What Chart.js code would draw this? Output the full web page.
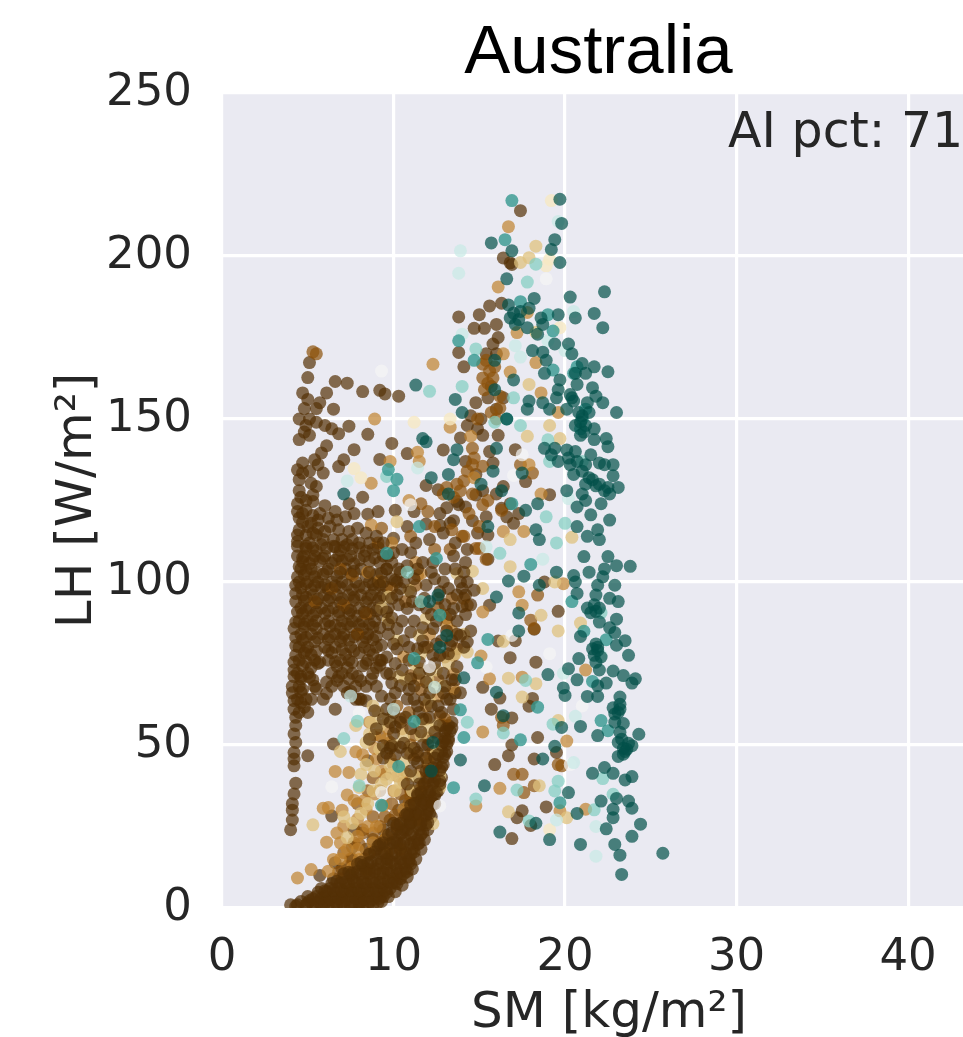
<!DOCTYPE html>
<html><head><meta charset="utf-8">
<script src="https://cdn.jsdelivr.net/npm/chart.js@4"></script>
<style>html,body{margin:0;padding:0;background:#fff;overflow:hidden}canvas{display:block}</style>
</head><body><canvas id="c" width="963" height="1037"></canvas>
<script>
const xTicks=[0,10,20,30,40];
const yTicks=[0,50,100,150,200,250];
const note="AI pct: 71";
const darkBrown=[[17.4,213.9],[16.4,199.4],[16.8,197.9],[16.9,197.4],[16.3,185.5],[15.6,184.7],[13.8,181.3],[15,182],[16,179],[14.7,177.8],[15.3,177.8],[16.1,175],[15.8,173],[13.8,170.4],[14.1,166],[5.1,167.3],[5,162.7],[6.6,161.5],[7.3,161],[8.2,158.4],[9.2,158.8],[9.5,157.7],[10.3,157],[6.1,158],[4.7,158],[5,156],[5.7,155],[5.5,153.2],[4.8,153.2],[6.5,153],[4.5,150],[5.1,150],[4.9,148],[5.5,149],[6,148],[6.4,147],[5.1,145],[4.5,143.7],[4.8,146],[6.8,145.5],[7.4,147.8],[8.5,145.3],[9.9,142.5],[6.1,141.8],[5.8,139.6],[7.7,140.6],[10.8,139.4],[12.9,140.5],[9.2,137.6],[7.1,137.5],[6.8,135.4],[5.4,137.5],[4.7,136.5],[5.6,136],[4.4,134.4],[4.7,133.4],[4.5,131.4],[5.1,134],[5.9,133.4],[5.2,130.3],[5.5,129.3],[5.3,126.7],[5.3,124.7],[7.4,124],[8.2,126],[11.9,129.6],[12.6,128.3],[13.7,124.7],[13.8,123.7],[14.8,126.7],[13.9,144.2],[14.3,148],[14.5,151],[15.1,150],[14.8,155],[15.5,156.5],[16.4,156.5],[16.1,145],[15.8,136.5],[17.1,140.6],[16.4,129.3],[19.1,126.8],[17.7,130.8],[13.1,122.8],[11.2,121.6],[10.1,122],[9.1,121.6],[8.5,120.8],[7.7,121],[7.2,120],[6.6,121.6],[6,123.4],[4.4,124],[4.4,121.6],[4.5,119.6],[4.9,122],[5.3,120.4],[4.7,118.3],[5.6,119],[6.2,119.6],[6.7,119],[4.4,114.4],[4.9,114.4],[5.5,114.4],[5.9,113],[4.4,112.4],[5.1,112],[6.6,110.8],[7.1,110.8],[8,112],[8.6,112],[10,113.4],[10.8,117],[11.9,117.8],[12.7,117.3],[13.5,118.8],[14.6,118.8],[16.3,122.6],[15.5,114.4],
[4,24],[4.1,27],[4.1,30],[4.1,32],[4.2,35],[4.3,38.3],[4.2,43.6],[4.2,45.7],[4.2,47.7],[4.3,50.8],[4.2,53.4],[4.3,56],[4.3,58.5],[4.2,61],[4.2,63.6],[4.1,66],[4.1,68],[4.2,71],[4.2,73],[4.2,75.4],[4.3,77.5],[4.3,80.5],[4.3,83],[4.2,85.7],[4.3,87.7],[4.4,90.8],[4.3,94],[4.3,96.5],[4.3,99],[4.4,101.6],[4.5,104.7],[4.4,108],[4.4,111],
[4.8,108],[5.4,108],[6,108],[6.8,108],[7.5,108],[8.3,108],[9.4,108],[4.6,104],[5.2,104],[6.2,104],[7.2,104],[8.1,104],[9.6,104],[10.3,104],[4.5,100],[5,100],[5.6,100],[6.4,100],[7,100],[7.8,100],[8.6,100],[9.1,100],[10.2,100],[4.7,96],[5.3,96],[6,96],[6.7,96],[7.4,96],[8.1,96],[8.7,96],[9.4,96],[4.6,92],[5.1,92],[5.8,92],[6.5,92],[7.3,92],[8,92],[8.8,92],[9.7,92],[4.5,88],[5,88],[5.5,88],[6.2,88],[7,88],[7.6,88],[8.2,88],[8.9,88],[4.6,84],[5.2,84],[5.9,84],[6.6,84],[7.1,84],[7.9,84],[8.5,84],[4.5,80],[5,80],[6,80],[6.6,80],[7.5,80],[8.3,80],[9,80],[4.5,76],[5.4,76],[6.2,76],[6.9,76],[7.4,76],[8.5,76],[9.3,76],[4.4,72],[5,72],[6.4,72],[7,72],[7.6,72],[8.8,72],[9.6,72],[4.5,68],[5.4,68],[6.4,68],[7.1,68],[7.8,68],[8.4,68],[9,68],[4.4,64],[5.2,64],[5.9,64],[7.8,64],[8.1,64],[4.5,60],[5,60],
[8.2,0.5],[8.8,1],[9.3,2],[9.7,3.5],[10.1,5],[10.5,7],[10.8,9.5],[11.1,12],[11.3,15],[11.6,18],[11.8,21],[12,24],[12.2,28],[12.4,32],[12.6,36],[12.8,40],[12.9,44],[13.1,48],[13.2,52],[13.4,57],[13.5,61],[13.6,66],
[4,1],[4.4,1],[4.9,1],[5.3,1],[5.8,1],[6.2,1],[6.7,1],[7.1,1],[7.6,1],[8,1],[5,3.5],[5.5,3.5],[6,3.5],[6.5,3.5],[7,3.5],[7.5,3.5],[8,3.5],[8.5,3.5],[9,3.5],[9.4,3.5],[5.8,6],[6.3,6],[6.8,6],[7.3,6],[7.8,6],[8.3,6],[8.8,6],[9.3,6],[9.8,6],[6.5,9],[7,9],[7.6,9],[8.2,9],[8.8,9],[9.4,9],[10,9],[10.4,9],[7,12],[7.7,12],[8.4,12],[9,12],[9.6,12],[10.2,12],[10.7,12],[7.6,15],[8.3,15],[9,15],[9.7,15],[10.4,15],[10.9,15],[8.4,18],[9,18],[9.8,18],[10.4,18],[11.1,18],[8.8,21],[9.5,21],[10.1,21],[10.7,21],[11.4,21],[9.4,24],[10.2,24],[10.8,24],[11.5,24],[9.8,27],[10.6,27],[11.2,27],[11.8,27],[10.3,30],[11,30],[11.6,30],[12,30],[10.7,33],[11.3,33],[11.9,33],[12.2,33],[11,36],[11.6,36],[12.2,36],[11.5,40],[12,40],[12.5,40],[12,44],[12.5,44],[12.3,48],[12.8,48],[12.6,52],[13,52],[12.9,56],[13.2,56],
[6.6,61],[6.5,50.3],[5,46.7],[8.5,45.2],[6.4,28.2],[7.7,24],[5.7,10],[7.6,18.7],[6.6,13.9],[7.5,66.5],[8,64.1],[8.4,63.6],[18.4,52.3],[16.9,50],[16.7,46.7],[15.9,44],[18.2,45.7],[19.5,47.7],[18.9,31],[17.5,29.8],[17.2,27.7],[18,25.3],[16.9,21.3],[19.6,91],[18.3,75.4],[16.8,76.8],[15.2,67.7],[15.7,61],[16.2,64.4],[18.1,64.3],[17.9,61.9],[16.9,58.3],[17.1,82],[16.1,81.9],[18.2,85.5],[15.5,107],[18.8,100],[15.6,92.9],
[4.9,110.3],[5.5,109.6],[6.1,110.4],[6.9,109.7],[7.6,110.2],[8.4,109.5],[9.1,110.6],[4.7,106.2],[5.1,105.7],[5.7,106.4],[6.4,105.8],[7,106.5],[7.7,105.6],[8.6,106.3],[9.9,106],[4.8,102.2],[5.4,101.6],[5.9,102.4],[6.7,101.8],[7.5,102.5],[8.4,101.7],[9,102.3],[4.6,98.2],[5.2,97.7],[5.8,98.4],[6.2,97.8],[6.9,98.3],[7.6,97.6],[8.3,98.2],[8.9,97.8],[9.6,98.4],[4.8,94.2],[5.5,93.6],[6.2,94.3],[6.9,93.7],[7.7,94.4],[8.4,93.8],[9.1,94.2],[4.7,90.3],[5.3,89.7],[6,90.4],[6.8,89.8],[7.4,90.3],[7.9,89.6],[8.6,90.2],[9.3,89.9],[4.8,86.2],[5.5,85.7],[6.3,86.4],[6.9,85.8],[7.5,86.3],[8.2,85.6],[8.8,86.1],[4.7,82.3],[5.4,81.7],[6.2,82.4],[6.9,81.8],[7.4,82.2],[8.2,81.7],[8.8,82.3],[4.8,78.2],[5.2,77.7],[6.4,78.3],[7.2,77.8],[8,78.2],[8.8,77.7],[4.7,74.3],[5.2,73.7],[6.7,74.2],[7.3,73.8],[8.2,74.3],[9,73.7],[4.6,70.2],[6.7,69.8],[7.4,70.3],[8.1,69.7],[8.7,70.2],[4.6,66.2],[6.1,65.8],[7.3,66],
[14.8,133],[15.2,128],[14.2,123],[16,127],[16.8,124],[17.3,121],[15.4,120],[13.3,118],[12.7,121],[14.9,115],[16.6,120],[17,118],[14.2,137],[15.6,140],[15.2,145],[14.9,147],[16,153],[15.7,160],[15.4,170],[16,170]];
const darkBrownTop=[[4.5,116],[5,117],[5.6,116.5],[4.7,121],[5.2,118],[4.6,126],[4.9,125],[4.5,128],[5.7,121],[6.3,117],[6.8,116],[7.4,115.5],[7.9,116.5],[5.3,115],[6,115.5],[6.5,113],[7,113],[7.6,113],[8.4,115],[9,114],
[4.9,111],[5.3,110.5],[5.8,111.5],[6.5,111],[7.3,111.5],[8,110.5],[8.8,110],[9.4,112],[4.7,107.5],[5.3,106.8],[5.9,107.2],[6.6,106.7],[7.3,107],[8,106.8],[8.9,107.4],[4.9,103.5],[5.5,102.8],[6.1,103.2],[6.9,102.9],[7.7,103.3],[8.6,103],[9.3,102.7],[4.9,99.5],[5.4,98.9],[6,99.2],[6.6,98.8],[7.3,99.1],[8,98.7],[8.8,99.2],[9.4,100],[4.9,95.3],[5.6,94.8],[6.3,95.2],[7,94.9],[7.7,95.3],[8.5,94.9],[9.2,95.1],[9.9,95],[4.9,91.3],[5.5,90.8],[6.2,91.2],[6.8,90.9],[7.5,91.3],[8.3,90.8],[9,91.2],[9.6,90.8],[4.8,87.2],[5.3,86.8],[6,87.2],[6.6,86.7],[7.3,87.1],[8,86.8],[8.6,87.1],[9.2,86],[4.9,83],[5.6,82.8],[6.3,83.2],[7,83],[7.7,83.2],[8.4,82.9],[9,83.3],[4.9,79],[5.5,78.8],[6.2,79],[7,79.3],[7.7,78.9],[8.6,79],[4.9,75.5],[5.6,75],[6.6,75.5],[7.6,75.3],[8.4,75],[9.2,74.5],[4.6,71],[5.3,70],[6.8,71],[7.9,71],[4.7,67],[4.6,63],
[9.2,99],[9.9,101],[10.6,100],[11.4,104],[12.2,103],[12.9,100],[13.6,104],[14,98],[10.2,96],[11.1,94],[11.9,92],[12.6,95],[13.3,90],[14,92.5],[14.2,96],[9.7,87],[10.5,88],[11.7,86],[12.5,88],[13.1,85],[13.7,84],[10,81],[10.9,80],[11.8,80],[12.5,81],[13.4,82],[9.6,77],[10.5,73],[11.5,72],[12.4,75],[13.2,78],[13.6,70],[9.9,69],[10.9,67],[11.8,64],[12.6,62],[13.1,64],[10,60],[10.7,58.5],[11.5,60],[12.1,58.5],[12.7,56],[9.4,58],[10.1,55.5],[11.6,54],[10.8,47.5],[11.2,49],[12,50],[9.6,47.5],[10.6,50.5],[9.8,49],
[11.5,38],[11.9,42],[11.6,33],[11.3,29],[11,26],[10.6,24],[10.2,20],[9.6,15],[8.6,12],[10,26],[10.9,28.5],[9.1,19],[8.2,13],[7.5,10],
[9.8,64.1],[9.8,71.8],[10.4,68.2],[11,70.3],[10.8,64.1],[9.8,57],[10.4,57],[11.4,62],[11.7,58],[11.2,45.7],[11.4,47.7],[9.4,49.8],[9.9,49.8],[10.4,49.3],[8.6,51.8],[11.5,75.4],[12.3,77.5],[12.7,77.5],[13.9,83.6],[14.3,81.6],[13.5,91.9],[14.3,100],[14.7,97.5],[14.1,103],[13.7,96],[12.7,97],[11.9,99],[11.2,101],[10.4,103],[9.6,104],[12.3,106],[13.5,108],[14.3,110],[11,109],[10,109],[9.2,106],[10.4,98],[11.5,93],[10.8,91.9],[10.2,85.7],[11,84.7],[12.3,85.7],[13.3,80.6],[14.5,85],[9.3,80.6],[10.2,79.5],[11.4,79.5],[11.9,69.3],[13.3,64],[13.9,66],[12.1,66],[12.9,66],[11.2,64],[9.6,61],[12.3,41.6],[11.4,44.6],[5.7,75.4],[5.1,70.8],[6.1,69.3],[5.5,67.2],[4.9,64],[4.8,61.6],
[9.7,108],[10.5,110],[11.3,112],[12.1,113],[12.9,115],[13.6,112],[14.2,106],[13,104],[11.7,106],[10.8,105],[10.1,100.5],[11,97],[11.8,95],[12.4,101],[13.2,98],[13.9,100],[14.5,93],[13,93],[12.2,90],[11.2,88],[10.3,93],[9.9,89],[10.6,82],[11.7,82],[12.8,82],[13.7,88],[14.2,90],[9.7,84],[9.2,76],[10.1,75],[10.9,76],[12.1,73],[12.9,72],[13.4,70],[11.2,68],[10.1,66],[9.3,65],[8.9,60.5],[9,55],[10,53.5],[11,55],[12.2,62],[12.8,60],[13,68],[13.7,74],[14.1,80],[11.7,50],[11,42],[11.9,46],[12.4,54],[9.4,46],[10.1,47],[10.8,38],[11.4,35],
[4.6,2],[5.1,2.2],[5.6,1.9],[6.1,2.1],[6.6,2],[7.1,2.2],[7.6,1.9],[8.1,2.1],[8.6,2],[9.1,1.8],[5.6,4.8],[6.1,5],[6.6,4.7],[7.1,4.9],[7.6,4.8],[8.1,5],[8.6,4.7],[9.1,4.9],[9.6,4.8],[6.4,7.5],[6.9,7.7],[7.4,7.4],[7.9,7.6],[8.4,7.5],[8.9,7.7],[9.4,7.4],[9.9,7.6],[10.2,7.5],[7.1,10.5],[7.6,10.7],[8.1,10.4],[8.6,10.6],[9.2,10.5],[9.7,10.7],[10.2,10.4],[10.6,10.5],[7.9,13.5],[8.5,13.7],[9.1,13.4],[9.6,13.6],[10.1,13.5],[10.6,13.7],[11,13.5],[8.6,16.5],[9.3,16.7],[9.9,16.4],[10.5,16.6],[11,16.5],[9.2,19.5],[9.8,19.7],[10.4,19.4],[11,19.6],[11.4,19.5],[9.7,22.5],[10.4,22.7],[11,22.4],[11.6,22.5],[10.2,25.5],[10.9,25.7],[11.5,25.4],[11.9,25.5],[10.7,28.5],[11.3,28.7],[11.9,28.4],[11,31.5],[11.7,31.7],[12.2,31.4],[11.4,34.5],[12,34.7],[12.4,34.4],[11.8,38],[12.3,38.2],[12.7,37.9],[12.1,42],[12.7,42.2],[12.4,46],[12.9,46.2],[12.8,50],[13.1,50.2],[13,54],[13.3,54.2],
[4.3,0.5],[5,1.5],[5.5,0.5],[6,1.5],[6.5,0.8],[7,1.5],[7.5,0.5],[8,1.8],[8.5,0.5],[5.3,2.8],[5.8,3],[6.3,2.8],[6.8,3],[7.3,2.8],[7.8,3],[8.3,2.8],[8.8,2.6],[9.2,3],[6,5.3],[6.5,5.5],[7,5.3],[7.5,5.5],[8,5.3],[8.5,5.5],[9,5.3],[9.5,5.5],[6.7,8.2],[7.2,8],[7.7,8.3],[8.2,8],[8.7,8.2],[9.2,8],[9.7,8.3],[10.1,8],[7.4,11],[7.9,11.2],[8.4,11],[8.9,11.2],[9.4,11],[9.9,11.2],[10.4,11],[10.8,11.2],[8.1,14],[8.7,14.2],[9.3,14],[9.9,14.2],[10.4,14],[10.9,14.2],[8.9,17.2],[9.5,17],[10.1,17.2],[10.7,17],[11.2,17.2],[9.4,20],[10,20.2],[10.6,20],[11.2,20.2],[11.5,20],[9.9,23],[10.5,23.2],[11.1,23],[11.7,23.2],[10.4,26],[11,26.2],[11.6,26],[12,26.2],[10.8,29],[11.5,29.2],[12.1,29],[11.2,32],[11.8,32.2],[12.3,32],[11.6,35.5],[12.1,35.7],[12.5,35.5],[12,39],[12.4,39.2],[12.7,39],[12.3,43],[12.8,43.2],[12.6,47],[13,47.2],[12.9,51],[13.2,51.2],[13.1,55],[13.4,55.2]];
const midBrown=[[5.3,170.6],[5.5,170],[15.2,166.8],[15.6,164.7],[15.2,162.6],[15.8,162.6],[16.2,153.4],[14.6,141],[14.6,136],[15.2,135.5],[17.4,136],[18.1,133.4],[13.1,129],[13.7,130],[14.1,131],[15.2,123.7],[16.3,122],[15,110.3],[9.3,116.5],[12,121.6],[8.2,23],[9.2,25],[10.2,25],[10.8,28],[9.6,17],[8.6,17],[7.7,20],[7.3,12.8],[8.4,11.8],[10.4,18],[11.4,27],[11,34.4],[11.7,37.5],[11.4,46.7],[9.8,50.8],[9.2,52.9],[10.4,58],[11.9,58],[12.7,59],[14.3,92.9],[14.1,95],[13.1,88.8],[13.7,79.5],[11.4,102],[14.8,110.3],[13.5,77.5],[11,71.3],[7.1,92.9],[8.4,90.3],[15.4,107],[18,88.3],[18.2,85.7],[18.4,96],[19.6,44],[18.2,37.5],[17.6,35.4],[19.8,43.6],[17,41],[17.5,41],[16.3,58.5],[16.4,56],
[9.1,112],[11,114],[12.4,110],[13.3,110],[14,114],[13.4,95],[12.6,92],[11.3,99],[10.7,94],[9.9,98],[7.6,102],[6.4,98],[5.4,94],[7.9,84],[6.9,104],[12,80],[13,77],[12.6,70],[11.6,67],[10.2,62],[10.9,60],[11.2,53],[12,52],[13,58],[12.1,47],[11,50],[10,44],[9.5,41],[8.8,40],[9.2,36],[9.9,32],[10.4,35],[10.9,32],[11.6,42],[8.5,36],[7.9,32],[8.8,28],[9.5,28],[10.1,28.5],[8.2,24],[7.5,15],[8,19.5],[8.8,23],[9.3,20.5],[7.1,17],[6.8,11],
[15.4,168],[15.5,161],[15.9,166],[15.3,159],[16.2,157],[15.7,152],[16,150],[14.9,150],[14.7,138],[14.3,134],[13.9,128],[12.9,127],[13.5,126],[14.6,127],[15.5,125],[14.4,121],[13.4,116],[15,117],[11.6,124],[12.4,117],[14.1,114]];
const gold=[[16.7,209],[16.1,190.5],[12.3,166.8],[8.9,150],[8.7,130.3],[9.8,137],[11.4,139.8],[11.5,137],[16.8,164.4],[17.2,176.5],[16.4,170],[17.8,182.7],[19.6,152],[13.3,147.5],[14.5,144.7],[18.6,158],[18.3,167.3],[18.6,127],[17.9,136],[14.7,132],[16.4,115.5],[17.6,115.5],[8.7,117.5],[10.9,125],[14.8,31.3],[15.2,54],[15.1,77.3],[15.2,90.8],[17.3,97],[17.5,92.9],[19.9,99.5],[20.1,51.2],[21.2,73],[21.2,30.3],[19.7,29.8],[17.5,70.8],[16.2,36.7],[15.6,70.3],[13.5,71.8],[13.5,67.2],[9.2,100.3],[11.6,102.6],[13.1,86.7],[8.6,57],[7.8,47.9],[10,35.9],[10.2,40.5],[9.6,51.8],[9,45.7],[10.6,38.5],[7.9,27.2],[7.1,25.1],[6.5,14.9],[7.6,12.3],[8,14.9],[7.3,18],[7.9,18],[8.8,20],[9.6,22],[8.4,30.3],[9.4,31.3],[10.6,30.3],[9,25],[5.2,11.8],[6.2,11.3],[4.4,9.2],[6.1,20.2],[6.6,41.9],[7.4,41.6],[7.3,34.7],[6.2,30.8],[5.9,30.6],
[8.9,35],[8.3,33],[9.3,42],[8.9,49],[9.8,46],[10.8,41],[11,47],[11.4,36],[10.5,55],[9.7,55],[8.2,47],[8.9,53],[12,45],[11.9,62],[12.6,65],[11.5,70],[10.6,77],[12.1,84],[12.9,90],[13.4,85],[11.3,106],[9.9,112],[8.5,103],[7.7,33],[7,30],[6.7,23],[7.9,22],[8.5,25],[6.9,15],[6.9,20]];
const tan=[[17.4,198],[17.9,199.5],[18.3,203],[18.3,176.6],[17.9,160.6],[17.8,144.7],[19.1,148],[19.7,144],[10.2,118.5],[20.4,113.7],[16.8,113],[5.3,25.5],[6.9,48],[7.1,28],[7.3,21.6],[8.1,41],[8.4,50.8],[8.7,57],[8.6,53.4],[8.8,62],[9.2,48.7],[9.8,43.6],[10.4,38.5],[10.1,36],[9.6,39.5],[10.6,44.6],[11.2,40.5],[10.6,52.9],[11.6,52.9],[12.5,56],[12.3,25.9],[12.7,37],[12.7,40.5],[16.7,29.5],[17.5,64.7],[18.6,89.8],[19.6,85],[20.9,87.4],[16.7,70.5],[18.3,68.8],[18.5,37.5],[19.6,57.5],[20.1,27.7],[16.8,104.7],[16.4,81.8],[14.6,103.3],[15.2,98],[19.4,100],[9.7,95.4],[10.9,97.5],[13.7,102.6],[11.5,83.6],[11.9,88.8],[9.7,88.3],[14.3,78.5],[11.5,73.4],[12,70.3],[12.1,63.6],
[8.4,44],[8.9,42],[9.2,56],[9.7,58],[10.1,50],[10.9,49],[11.5,57],[12.1,55],[8,37],[8.8,36],[9.3,38],[9.9,41],[10.5,42],[11.1,36],[12.2,68],[11.2,75],[10.7,70],[11.6,78],[12.9,68],[13.2,75],[12.5,73],[9.1,60],[8.5,32],[7.6,26],[8.1,29],[12.5,48],[13.6,78],[14.1,84],[10.2,82],[9.3,92],[7.8,56],[10.3,71]];
const cream=[[19.2,217],[19.1,199],[11.2,149],[13.3,150],[19.7,178],[7.7,134.8],[8.1,132],[18.9,197],[19.1,24]];
const offWhite=[[9.3,164.7],[18.9,193],[17.5,139],[17,132.7],[11,123.7],[6.4,37.2],[12.7,31.3],[19.1,78],[21,62],[16.9,83.6],[15.4,73.9],[9.3,35.4],[12.1,74],[20.3,44],[8,59.8]];
const paleTeal=[[13.9,201.6],[13.8,194.7],[19.6,210.6],[14,176],[17.1,172.5],[17.4,169],[19,174],[20,171],[20.5,183],[11.4,135],[7.3,131],[20.2,125.6],[21.8,25],[21.8,15.9],[18.7,107],[20.5,44.6],[20.6,58.8],[19.9,72],[7.5,65],[10,61],[12.4,67.7],[15.4,110.8],[22.1,77.5],[19.5,27]];
const lightTeal=[[17.8,192],[12.1,158.5],[18.3,197.5],[14,160],[17,156.5],[14.8,171.5],[15.9,149],[17.4,148],[19,143.6],[21,137],[18.9,120],[20,118],[19.5,112],[19.1,137],[9.6,132.4],[16.2,108.8],[7.1,52],[7.9,57.3],[14.3,57],[14.8,33.4],[19.4,35.9],[22.2,39.7],[22.8,34.9],[21.7,30.1],[17.2,36.2],[17.9,26.7],[19.6,38.9],[22.1,90.6],[19.3,56.4],[16.4,53.7],[8,37.5],[10.8,103],[11.6,94],[17.7,69.8]];
const teal=[[16.9,217],[16.5,205],[17.4,186],[13.8,174],[19,182],[20.5,164],[19.3,165],[14.7,168],[9.7,134.5],[10,128],[10.2,131.5],[16.6,150],[16.9,124],[11.5,117],[20.4,94],[15.5,82.4],[18,105.4],[22.4,82.3],[14.1,52.3],[17.4,51.6],[13.9,60.8],[13.5,36.9],[19.7,32.3],[18.4,61.6],[22.1,57.5],[22.5,54.4],[14.9,75.2],[11.2,57.2],[10.3,43.4],[9.3,31.5],[11.2,76.5],[12.5,107.2],[9.6,108.8],[12.7,89.8],[21.6,69.5],[21.1,84.9],[21,150],[21.2,153],[20.9,147],[20.7,166],[19.3,177]];
const darkTeal=[[19.7,217.4],[19.8,210],[19.4,205],[19.2,202],[19.7,198],[15.7,204],[16.9,201.6],[16.6,193],[18.2,187],[20.3,187.4],[22.3,189],[21.7,182.4],[22.2,178],[20.6,181],[19.6,182],[18.6,181],[18.7,179],[16.7,185],[17,182.5],[17.3,180.5],[17.1,179],[17.9,184],[19.4,173],[20.2,173],[20.4,170],[18.7,170.5],[21,167],[21.7,166],[22.5,164.5],[21.2,164],[20.6,164],[19.7,162],[18.8,164],[17,162],[15.9,168],[11.3,160.4],[13.6,156],[15.9,159],[14,152],[20.7,160.6],[21.6,159.6],[21.8,157],[21.3,155],[22.2,155],[23,152],[20.4,156.5],[20.5,155.5],[20.3,157.5],[18.7,155],[19.1,153],[17.8,153],[17.9,155.5],[19.5,156.5],[16.6,150],[21,151],[21.1,146],[21.7,143.7],[22.4,144],[22.5,141.5],[18.8,141],[19.4,141],[20.6,140],[11.7,144],[11.9,143],[13.7,140.6],[13.5,137.5],[16,141],[20.1,140.5],[22,136.5],[22.3,136],[22.8,136],[20.3,136],[21,134],[19.6,137],[17.5,133.4],[15.8,134],[12.2,132],[13.2,133],[22.8,132.6],[21.6,131.4],[21.2,130],[21.8,129.5],[22.5,129],[22.3,128],[23.1,129],[20.1,128],[21,127],[21.2,125],[22.1,124],[20.7,123],[21.5,120.6],[22.6,119],[20.7,117],[21.9,116],[18.3,116],[18.5,113],[21.3,114],[22,113],[7.1,127],[16.3,128],[18.4,124],[17.7,122],[15.1,130],[13.2,127],[15.5,117],
[21.1,107.8],[22.5,107.8],[23,105],[23.8,104.8],[22.3,104],[21.4,103],[22.2,101.6],[20.5,102],[20.6,100],[22.9,99],[20.7,96.5],[21.8,96],[22.6,95],[23.1,94],[21.7,93],[21.3,92],[21.5,90.6],[22,87.7],[23,88.6],[22.6,86],[22.9,84.5],[20.9,83.3],[23.5,82],[21.8,81],[23,80.6],[21.6,79.5],[21.7,77.5],[23.7,77.5],[20.8,76.5],[21.8,75.4],[20.2,73.4],[22,73],[22.8,72.7],[23.4,71.3],[24.1,70.3],[23.9,69],[19,71.6],[20.7,70],[22.4,69],[21.9,68.2],[19.9,67.5],[20,65.2],[21.3,64.9],[21.9,64.9],[23.2,64.7],[22.8,61.4],[23.2,61],[22.9,59.5],[22.9,57],[23.4,56.6],[20.9,55.7],[19.8,55.4],[21.9,52.9],[23.2,53.9],[23.3,51.8],[24.3,53.3],[23.1,50.8],[23.9,49.8],[23.6,48.7],[19.4,49.6],[23.4,47.2],[23.1,46.5],[18.7,45.7],[13.9,45.4],[22.3,43.1],[21.6,41.3],[22.8,41.3],[23.9,40.3],[23.5,39.3],[15.3,37.5],[20.2,35.4],[22.1,32.8],[23.7,32.8],[23,33.6],[22.8,30.3],[23.9,30.6],[20.7,29],[22.8,27.7],[24.4,25.7],[18.3,26],[22.4,24.3],[16.2,23.3],[23.9,22],[19.1,21],[20.9,19.5],[22.9,19.5],[23.2,16.2],[25.7,16.8],[23.3,10.3],[18.5,99],[19.5,103],[17.6,101.8],[16.7,100.3],[16,95.4],[17.3,90.5],[17.3,85],[14.1,70.6],[16,66.2],[16.4,59],[12.2,42],[12.7,80],[12.6,96],[13.1,83.6],[12.1,94],[12.3,50.8],
[20.9,149],[21.2,148],[20.6,148],[21.4,152],[20.8,152],[21.7,147],[20.9,145],[19.2,139],[20.2,138],[20.7,137],[21.2,136],[20.5,133],[21.4,132],[22,130],[22.6,127],[18.1,171],[18.9,168],[19.6,159],[16.8,181],[17.4,183],[17.8,178],[18.4,176],[20.1,153],[21.5,139],[21.9,99],[22,92],[21.8,91],[21.9,80],[22.1,77],[21.9,79],[23.1,60],[23.2,62.5],[23.4,49],[23.5,48],[23.7,50.5]];

const pt=a=>a.map(p=>({x:p[0],y:p[1]}));
const ds=(d,c)=>({data:pt(d),backgroundColor:c,borderWidth:0,pointRadius:6.5,pointHoverRadius:6.5});
const textCol='#262626';
const frame={id:'frame',
 afterLayout(ch){ch.titleBlock.left+=6;ch.titleBlock.right+=6;ch.titleBlock.top+=2;ch.titleBlock.bottom+=2;ch.scales.x.right+=33;},
 beforeDraw(ch){const a=ch.chartArea,c=ch.ctx;c.save();c.fillStyle='#eaeaf2';c.fillRect(a.left,a.top,a.right-a.left,a.bottom-a.top);c.restore();},
 afterDraw(ch){const c=ch.ctx;c.save();c.fillStyle=textCol;c.font='49px "DejaVu Sans"';c.textBaseline='alphabetic';c.fillText(note,ch.scales.x.getPixelForValue(29.5),ch.scales.y.getPixelForValue(233.5));c.restore();}};
new Chart(document.getElementById('c'),{type:'scatter',
 data:{datasets:[ds(darkTeal,'rgba(1,80,72,0.7)'),ds(teal,'rgba(53,151,143,0.8)'),ds(lightTeal,'rgba(128,205,193,0.7)'),ds(paleTeal,'rgba(199,234,229,0.7)'),ds(offWhite,'rgba(245,245,245,0.7)'),ds(cream,'rgba(246,232,195,0.8)'),ds(darkBrownTop,'rgba(84,48,5,0.7)'),ds(tan,'rgba(223,194,125,0.75)'),ds(gold,'rgba(191,129,45,0.7)'),ds(midBrown,'rgba(140,81,10,0.7)'),ds(darkBrown,'rgba(84,48,5,0.7)')]},
 options:{responsive:false,animation:false,
  layout:{autoPadding:false,padding:{bottom:-3}},
  plugins:{legend:{display:false},tooltip:{enabled:false},
   title:{display:true,text:'Australia',fullSize:false,color:'#000',font:{family:'"Liberation Sans"',size:69,weight:'normal',lineHeight:1.2},padding:{top:10.2,bottom:0}}},
  scales:{
   x:{type:'linear',min:0,max:43.2,
    afterFit(s){s.height=132;},
    afterBuildTicks(s){s.ticks=xTicks.map(v=>({value:v}));},
    grid:{color:'#fff',lineWidth:3.2,drawTicks:false},border:{display:false},
    ticks:{color:textCol,font:{family:'"DejaVu Sans"',size:45},padding:23,maxRotation:0,autoSkip:false,includeBounds:false},
    title:{display:true,text:'SM [kg/m²]',color:textCol,font:{family:'"DejaVu Sans"',size:50},padding:{top:0,bottom:-4}}},
   y:{type:'linear',min:0,max:250,
    afterFit(s){s.width=222;},
    afterBuildTicks(s){s.ticks=yTicks.map(v=>({value:v}));},
    grid:{color:'#fff',lineWidth:3.2,drawTicks:false},border:{display:false},
    ticks:{color:textCol,font:{family:'"DejaVu Sans"',size:45},padding:30,autoSkip:false},
    title:{display:true,text:'LH [W/m²]',color:textCol,font:{family:'"DejaVu Sans"',size:50},padding:{top:48,bottom:0}}}
  }},
 plugins:[frame]});
</script></body></html>
